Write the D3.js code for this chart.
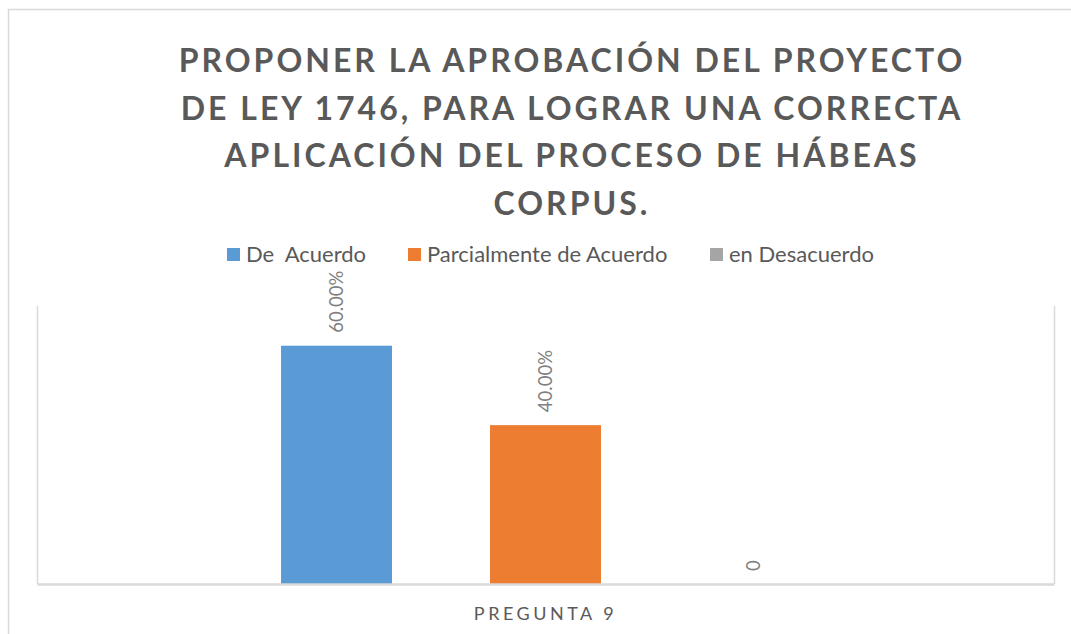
<!DOCTYPE html>
<html>
<head>
<meta charset="utf-8">
<script src="https://cdn.jsdelivr.net/npm/d3@7"></script>
<style>
  body { margin: 0; background: #ffffff; }
  svg { display: block; font-family: Lato, "Open Sans", sans-serif; }
</style>
</head>
<body>
<div id="chart"></div>
<script>
// data
const CATEGORIES = ["PREGUNTA 9"];
const SERIES = ["De  Acuerdo", "Parcialmente de Acuerdo", "en Desacuerdo"];
const VALUES = [0.60, 0.40, 0];
const LABELS = ["60.00%", "40.00%", "0"];
const COLORS = ["#5b9bd5", "#ed7d31", "#a5a5a5"];
const TITLE_LINES = ["PROPONER LA APROBACIÓN DEL PROYECTO",
                     "DE LEY 1746, PARA LOGRAR UNA CORRECTA",
                     "APLICACIÓN DEL PROCESO DE HÁBEAS",
                     "CORPUS."];

// frame
const FRAME_WIDTH = 1071;
const FRAME_HEIGHT = 634;
const PLOT = {left: 37, right: 1054, top: 306, bottom: 584};
const TEXT_COLOR = "#595959";

const svg = d3.select("#chart")
  .append("svg")
  .attr("width", FRAME_WIDTH)
  .attr("height", FRAME_HEIGHT);

// outer chart border (runs off the right and bottom edge)
svg.append("path")
  .attr("d", "M8.5,640 V9.5 H1080")
  .attr("fill", "none")
  .attr("stroke", "#d9d9d9")
  .attr("stroke-width", 1.5);

// title
svg.append("g")
  .selectAll("text")
  .data(TITLE_LINES)
  .enter()
  .append("text")
  .attr("x", 572)
  .attr("y", (d, i) => 72 + i * 47.5)
  .attr("text-anchor", "middle")
  .attr("font-size", 32)
  .attr("font-weight", "bold")
  .attr("letter-spacing", 3)
  .attr("fill", TEXT_COLOR)
  .text((d) => d);

// legend
const LEGEND_X = [227, 408, 710];
const legend = svg.append("g")
  .selectAll("g")
  .data(SERIES)
  .enter()
  .append("g")
  .attr("transform", (d, i) => "translate(" + LEGEND_X[i] + ",248)");
legend.append("rect")
  .attr("width", 13)
  .attr("height", 13)
  .attr("fill", (d, i) => COLORS[i]);
legend.append("text")
  .attr("x", 19)
  .attr("y", 14)
  .attr("font-size", 22)
  .attr("fill", TEXT_COLOR)
  .attr("xml:space", "preserve")
  .style("white-space", "pre")
  .text((d) => d);

// scales
const yScale = d3.scaleLinear()
  .domain([0, 0.7])
  .range([PLOT.bottom, PLOT.top]);

const xGroup = d3.scaleBand()
  .domain(CATEGORIES)
  .range([PLOT.left, PLOT.right])
  .paddingInner(0)
  .paddingOuter(0.2014);

const xSeries = d3.scaleBand()
  .domain(SERIES)
  .range([0, xGroup.bandwidth()])
  .padding(0.469);

// plot area sides
svg.append("path")
  .attr("d", "M" + (PLOT.left + 0.5) + "," + PLOT.top + " V" + PLOT.bottom +
    " M" + (PLOT.right + 0.5) + "," + PLOT.top + " V" + PLOT.bottom)
  .attr("stroke", "#d9d9d9")
  .attr("stroke-width", 1.5);

// bars
const bars = svg.append("g")
  .selectAll("rect")
  .data(VALUES)
  .enter()
  .append("rect")
  .attr("x", (d, i) => xGroup(CATEGORIES[0]) + xSeries(SERIES[i]))
  .attr("y", (d) => yScale(d))
  .attr("width", xSeries.bandwidth())
  .attr("height", (d) => PLOT.bottom - yScale(d))
  .attr("fill", (d, i) => COLORS[i]);

// x axis
const xAxis = svg.append("g")
  .attr("transform", "translate(0," + PLOT.bottom + ")")
  .call(d3.axisBottom(xGroup).tickSize(0).tickPadding(23));
xAxis.select(".domain")
  .attr("stroke", "#d9d9d9")
  .attr("stroke-width", 2.5);
xAxis.selectAll("text")
  .attr("font-family", "Lato, sans-serif")
  .attr("font-size", 18)
  .attr("letter-spacing", 3.5)
  .attr("fill", TEXT_COLOR);

// data labels
svg.append("g")
  .selectAll("text")
  .data(VALUES)
  .enter()
  .append("text")
  .attr("transform", (d, i) => {
    const cx = xGroup(CATEGORIES[0]) + xSeries(SERIES[i]) + xSeries.bandwidth() / 2;
    return "translate(" + (cx + 6) + "," + (yScale(d) - 13) + ") rotate(-90)";
  })
  .attr("text-anchor", "start")
  .attr("font-size", 18.5)
  .attr("fill", "#7f7f7f")
  .text((d, i) => LABELS[i]);
</script>
</body>
</html>
